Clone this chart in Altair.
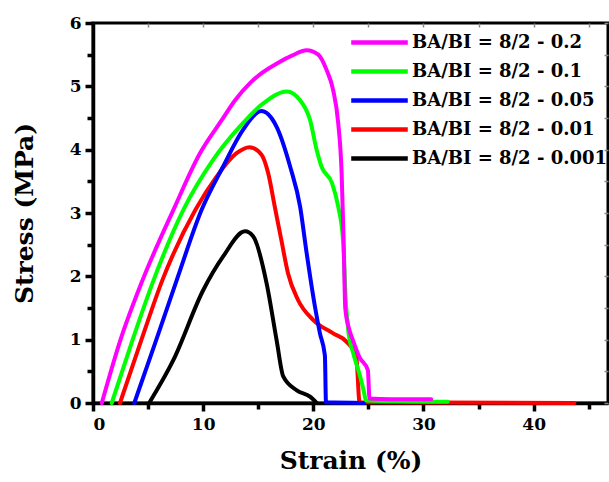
import altair as alt
import pandas as pd

# ---- data ----
series_names = ["BA/BI = 8/2 - 0.2", "BA/BI = 8/2 - 0.1", "BA/BI = 8/2 - 0.05",
                "BA/BI = 8/2 - 0.01", "BA/BI = 8/2 - 0.001"]
series_colors = ["#FF00FF", "#00FF00", "#0000FF", "#FF0000", "#000000"]

x_02 = [0.8, 2.5, 4.5, 7.3, 9.7, 11.7, 12.9, 14.25, 15.4, 16.7, 18.0, 19.4, 20.45, 21.2, 21.8,
        22.26, 22.57, 22.75, 22.9, 23.2, 23.6, 24.2, 24.95, 25.1, 27.0, 30.7]
y_02 = [0.0, 1.0, 1.94, 3.05, 3.94, 4.47, 4.78, 5.05, 5.22, 5.36, 5.48, 5.57, 5.5, 5.26, 4.94,
        4.42, 3.63, 2.57, 1.5, 1.2, 0.99, 0.72, 0.52, 0.07, 0.06, 0.06]

x_01 = [1.7, 3.6, 5.5, 8.2, 10.9, 13.3, 15.45, 17.6, 18.8, 19.7, 20.3, 20.75, 21.7, 22.26,
        22.7, 22.95, 23.2, 23.6, 24.2, 24.5, 24.8, 32.2]
y_01 = [0.0, 1.0, 1.94, 3.05, 3.84, 4.36, 4.73, 4.92, 4.78, 4.47, 4.0, 3.73, 3.47, 3.1,
        2.57, 1.6, 1.1, 0.8, 0.45, 0.25, 0.04, 0.02]

x_005 = [3.75, 5.75, 7.6, 9.86, 11.8, 13.6, 15.3, 16.2, 16.67, 17.9, 18.8, 19.4, 20.15, 20.6,
         21.05, 21.15, 24.6]
y_005 = [0.0, 1.0, 1.94, 3.05, 3.73, 4.31, 4.61, 4.5, 4.36, 3.73, 3.1, 2.36, 1.52, 1.1,
         0.75, 0.01, 0.0]

x_001 = [2.45, 4.4, 6.3, 9.3, 11.2, 13.0, 14.2, 15.3, 15.9, 16.5, 17.1, 17.7, 18.6, 20.0,
         21.8, 23.0, 23.9, 24.2, 43.7]
y_001 = [0.0, 1.0, 1.94, 3.05, 3.57, 3.94, 4.04, 3.92, 3.63, 3.1, 2.57, 2.05, 1.63, 1.31,
         1.1, 0.97, 0.73, 0.01, 0.0]

x_0001 = [5.1, 7.3, 10.0, 11.8, 13.8, 14.55, 15.76, 16.67, 17.27, 18.5, 19.7, 20.3]
y_0001 = [0.0, 0.68, 1.78, 2.31, 2.71, 2.63, 1.89, 0.99, 0.42, 0.2, 0.1, 0.0]

x_ticks = [0, 5, 10, 15, 20, 25, 30, 35, 40, 45]
y_ticks = [0, 0.5, 1, 1.5, 2, 2.5, 3, 3.5, 4, 4.5, 5, 5.5, 6]

# drawing order: black first, magenta last (on top)
draw = [(series_names[4], x_0001, y_0001), (series_names[3], x_001, y_001),
        (series_names[2], x_005, y_005), (series_names[1], x_01, y_01),
        (series_names[0], x_02, y_02)]
rows = []
for k, (name, xs, ys) in enumerate(draw):
    for i, (a, b) in enumerate(zip(xs, ys)):
        rows.append({"series": name, "strain": a, "stress": b, "ord": i, "layer": k})
df = pd.DataFrame(rows)

FONT = "DejaVu Serif"
XDOM = [0, 46.75]
YDOM = [0, 6]

lines = alt.Chart(df).mark_line(strokeWidth=4, interpolate="monotone", strokeCap="round",
                                strokeJoin="round").encode(
    x=alt.X("strain:Q", scale=alt.Scale(domain=XDOM, nice=False, zero=False),
            axis=alt.Axis(title="Strain (%)", values=x_ticks, format=".0f",
                          labelExpr="datum.value % 10 === 0 ? datum.label : ''",
                          tickSize={"condition": {"test": "datum.value % 10 === 0", "value": 8},
                                    "value": 6},
                          tickWidth=3.5, tickColor="black", domainWidth=3.5, domainColor="black",
                          labelFont=FONT, labelFontSize=17, labelFontWeight="bold",
                          labelColor="black", labelPadding=5, grid=False,
                          titleFont=FONT, titleFontSize=25, titleFontWeight="bold",
                          titleColor="black", titlePadding=16)),
    y=alt.Y("stress:Q", scale=alt.Scale(domain=YDOM, nice=False),
            axis=alt.Axis(title="Stress (MPa)", values=y_ticks, format=".0f",
                          labelExpr="datum.value % 1 === 0 ? datum.label : ''",
                          tickSize={"condition": {"test": "datum.value % 1 === 0", "value": 8},
                                    "value": 6},
                          tickWidth=3.5, tickColor="black", domainWidth=3.5, domainColor="black",
                          labelFont=FONT, labelFontSize=17, labelFontWeight="bold",
                          labelColor="black", labelPadding=4, grid=False,
                          titleFont=FONT, titleFontSize=25, titleFontWeight="bold",
                          titleColor="black", titlePadding=32)),
    color=alt.Color("series:N", scale=alt.Scale(domain=series_names, range=series_colors),
                    legend=alt.Legend(title=None, orient="none", legendX=270, legendY=3,
                                      symbolType="M-2,0H2", symbolStrokeWidth=4.5,
                                      symbolSize=800, labelFont=FONT, labelFontSize=18,
                                      labelFontWeight="bold", labelColor="black",
                                      labelLimit=400, labelOffset=16, rowPadding=3)),
    detail="layer:N",
    order="ord:Q",
)

frame_ticks = alt.Chart(df).mark_point(opacity=0).encode(
    x=alt.X("strain:Q", scale=alt.Scale(domain=XDOM, nice=False, zero=False),
            axis=alt.Axis(orient="top", title=None, values=x_ticks, labels=False,
                          domain=False, tickSize=4, offset=-4, tickColor="#888888",
                          tickWidth=1.5, grid=False)),
    y=alt.Y("stress:Q", scale=alt.Scale(domain=YDOM, nice=False),
            axis=alt.Axis(orient="right", title=None, values=y_ticks, labels=False,
                          domain=False, tickSize=4, offset=-4, tickColor="#888888",
                          tickWidth=1.5, grid=False)),
)

chart = alt.layer(lines, frame_ticks).resolve_scale(
    x="independent", y="independent"
).properties(
    width=515, height=380,
    autosize=alt.AutoSizeParams(type="none"),
    padding={"left": 93, "top": 23, "right": 1, "bottom": 79},
    background="white",
).configure_view(stroke="black", strokeWidth=3)

chart.save("out.html", embed_options={"renderer": "svg", "actions": False})
